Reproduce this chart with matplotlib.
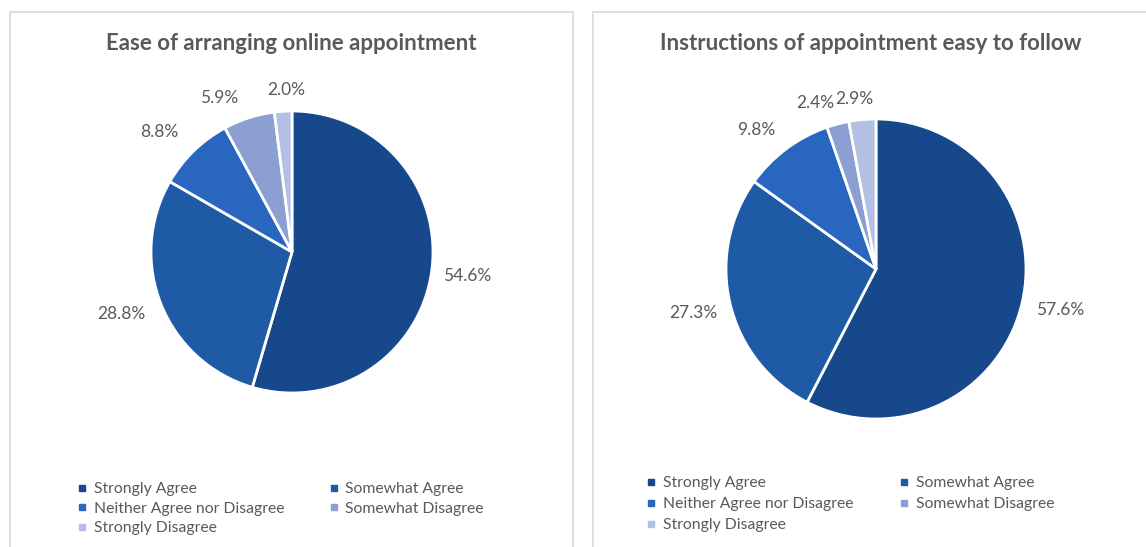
import numpy as np
import matplotlib
matplotlib.use('Agg')
import matplotlib.pyplot as plt
from matplotlib.lines import Line2D
from matplotlib.patches import Rectangle

plt.rcParams['font.family'] = ['Lato', 'DejaVu Sans']

# data
categories = ['Strongly Agree', 'Somewhat Agree', 'Neither Agree nor Disagree',
              'Somewhat Disagree', 'Strongly Disagree']
ease_values = [54.6, 28.8, 8.8, 5.9, 2.0]
instr_values = [57.6, 27.3, 9.8, 2.4, 2.9]
titles = ['Ease of arranging online appointment',
          'Instructions of appointment easy to follow']

colors = ['#17488C', '#1E5AA5', '#2966BF', '#8B9FD3', '#B4C0E3']
text_col = '#595959'

W, H = 1146, 547
fig = plt.figure(figsize=(W / 100, H / 100), dpi=100)

# panel frames
for x0, x1 in [(10, 573), (593, 1160)]:
    fig.patches.append(Rectangle((x0 / W, -0.05), (x1 - x0) / W, 1.05 - 12 / H,
                                 transform=fig.transFigure, fill=False,
                                 edgecolor='#D9D9D9', lw=1.2))

# layout per panel: pie centre, radius, title x, label distance/angle nudges, legend anchor
panels = [
    dict(vals=ease_values, title=titles[0], cx=292, cy=252, r=141, tx=291,
         dist=[1.25, 1.29, 1.27, 1.21, 1.15], nudge=[0.5, -2, 3.8, 7.4, -1.5],
         leg=(78, 482), colsp=2.9, lsp=0.36),
    dict(vals=instr_values, title=titles[1], cx=876, cy=269, r=150, tx=871,
         dist=[1.26, 1.25, 1.22, 1.18, 1.14], nudge=[1, 0, 4, 5.4, 2.2],
         leg=(647, 476), colsp=3.0, lsp=0.45),
]

# legend fills column-wise, reorder so it reads row-wise like the original
order = [0, 2, 4, 1, 3]

for p in panels:
    cx, cy, r = p['cx'], p['cy'], p['r']
    ax = fig.add_axes([(cx - r) / W, (H - cy - r) / H, 2 * r / W, 2 * r / H])
    wedges, _ = ax.pie(p['vals'], colors=colors, startangle=90, counterclock=False,
                       wedgeprops=dict(edgecolor='white', linewidth=2))
    ax.set_xlim(-1, 1)
    ax.set_ylim(-1, 1)
    ax.set_aspect('equal')
    ax.axis('off')
    for w, v, d, n in zip(wedges, p['vals'], p['dist'], p['nudge']):
        ang = np.deg2rad((w.theta1 + w.theta2) / 2 + n)
        ax.text(d * np.cos(ang), d * np.sin(ang), f'{v:.1f}%', ha='center', va='center',
                fontsize=12.5, color=text_col)

    fig.text(p['tx'] / W, 1 - 44 / H, p['title'], ha='center', va='center',
             fontsize=16, fontweight='bold', color=text_col)

    handles = [Line2D([], [], marker='s', linestyle='', markersize=5, color=c)
               for c in colors]
    fig.legend([handles[i] for i in order], [categories[i] for i in order],
               ncol=2, loc='upper left',
               bbox_to_anchor=(p['leg'][0] / W, 1 - p['leg'][1] / H),
               frameon=False, fontsize=11.3, labelcolor=text_col,
               handlelength=0.5, handletextpad=0.5, labelspacing=p['lsp'],
               columnspacing=p['colsp'], borderpad=0, borderaxespad=0)

plt.savefig('out.png', dpi=100)
